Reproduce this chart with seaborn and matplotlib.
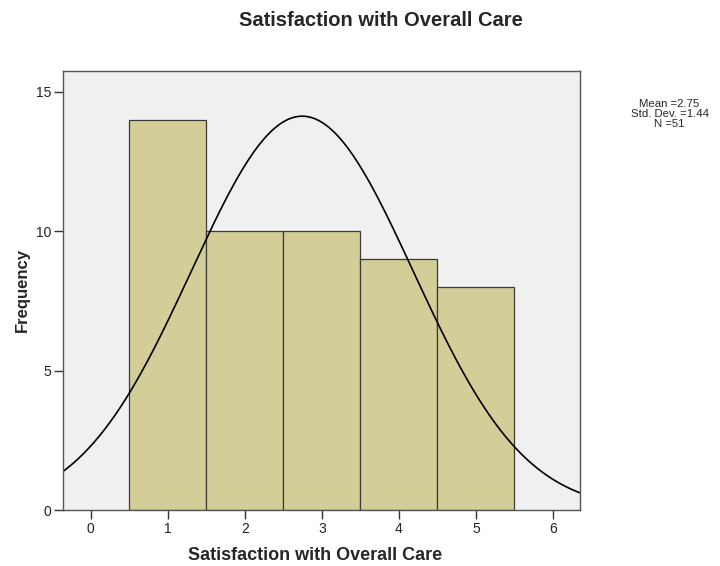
import numpy as np
import pandas as pd
import matplotlib
matplotlib.use("Agg")
import matplotlib.pyplot as plt
import seaborn as sns

# values
scores = [1, 2, 3, 4, 5]
frequencies = [14, 10, 10, 9, 8]
x_ticks = [0, 1, 2, 3, 4, 5, 6]
y_ticks = [0, 5, 10, 15]

sns.set_style("white")
plt.rcParams['font.family'] = ['Liberation Sans', 'DejaVu Sans']

df = pd.DataFrame({"score": scores, "freq": frequencies})
n = df["freq"].sum()
mean = np.average(df["score"], weights=df["freq"])
sd = np.sqrt(np.sum(df["freq"] * (df["score"] - mean) ** 2) / (n - 1))

fig = plt.figure(figsize=(7.2, 5.66), dpi=100)
ax = fig.add_axes([0.0875, 0.0989, 0.718, 0.7757])
ax.set_facecolor("#F0F0F0")

sns.histplot(data=df, x="score", weights="freq", discrete=True, ax=ax,
             color="#D3CE98", alpha=1, edgecolor="#3a3a3a", linewidth=0.9)

# normal curve scaled to counts (bin width 1)
xlim = (-0.36, 6.35)
xs = np.linspace(xlim[0], xlim[1], 300)
curve = pd.DataFrame({"x": xs,
                      "y": n / (sd * np.sqrt(2 * np.pi)) * np.exp(-0.5 * ((xs - mean) / sd) ** 2)})
sns.lineplot(data=curve, x="x", y="y", ax=ax, color="black", linewidth=1.2)

ax.set_xlim(*xlim)
ax.set_ylim(0, 15.75)
ax.set_xticks(x_ticks)
ax.set_yticks(y_ticks)
ax.tick_params(axis="both", which="both", length=6.5, width=1, color="#333333",
               labelsize=10, labelcolor="#222222", direction="out", pad=2,
               bottom=True, left=True)
for s in ax.spines.values():
    s.set_color("#555555")
    s.set_linewidth(1)

ax.set_xlabel("Satisfaction with Overall Care", fontsize=13, fontweight="bold")
ax.xaxis.set_label_coords(0.488, -0.085)
ax.set_ylabel("Frequency", fontsize=12, fontweight="bold", va="center")
ax.yaxis.set_label_coords(-0.079, 0.5)
fig.text(0.529, 0.964, "Satisfaction with Overall Care", ha="center", va="center",
         fontsize=14.5, fontweight="bold")
fig.text(0.93, 0.799, f"Mean ={mean:.2f}\nStd. Dev. ={sd:.2f}\nN ={n}",
         ha="center", va="center", fontsize=8.2, linespacing=1.02)

fig.savefig("out.png", dpi=100)
